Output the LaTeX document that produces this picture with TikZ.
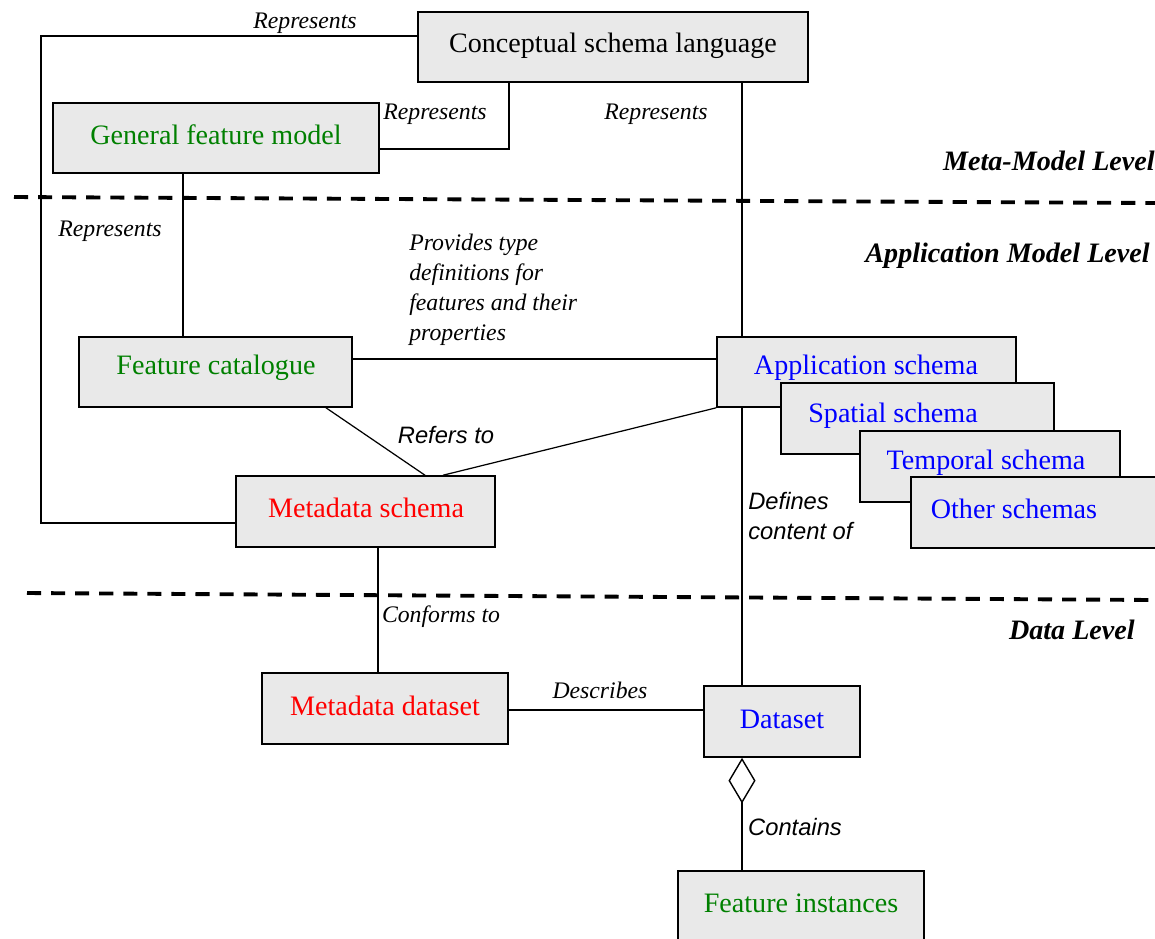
\documentclass[tikz,border=0pt]{standalone}
\usepackage{fontspec}
\setmainfont{Liberation Serif}
\newfontfamily\arialfont{Liberation Sans}
\usetikzlibrary{arrows.meta}
\definecolor{boxfill}{RGB}{233,233,233}
\definecolor{fgreen}{RGB}{0,128,0}
\definecolor{fred}{RGB}{255,0,0}
\definecolor{fblue}{RGB}{0,0,255}
\begin{document}
\begin{tikzpicture}[x=0.02cm,y=-0.02cm,
  box/.style={draw=black, line width=0.9pt, fill=boxfill, inner sep=0pt},
  wh/.style 2 args={minimum width=#1*0.02cm, minimum height=#2*0.02cm},
  boxtext/.style={font=\fontsize{16}{19}\selectfont, inner sep=0pt},
  rel/.style={font=\fontsize{13.5}{17}\selectfont\itshape, inner sep=0pt},
  relsans/.style={font=\fontsize{13.5}{17.5}\selectfont\arialfont\itshape, inner sep=0pt},
  level/.style={font=\fontsize{16}{19}\selectfont\bfseries\itshape, inner sep=0pt},
  conn/.style={draw=black, line width=0.7pt},
  sep/.style={line width=2.2pt, dash pattern=on 8pt off 5.7pt}]
\useasboundingbox (0,0) rectangle (1155,938);

% level separators
\coordinate (s1a) at (14,197);
\coordinate (s1b) at (1155,203);
\coordinate (s2a) at (27,593);
\coordinate (s2b) at (1155,600);
\draw[sep] (s1a) -- (s1b);
\draw[sep] (s2a) -- (s2b);

% level titles
\node[level, anchor=east] (lv-meta) at (1155,161) {Meta-Model Level};
\node[level, anchor=east] (lv-app) at (1150,256) {Application Model Level};
\node[level, anchor=east] (lv-data) at (1135,630) {Data Level};

% boxes
\node[box, wh={390}{70}] (csl) at (613,47) {};
\node[boxtext] (csl-t) at (613,46) {Conceptual schema language};

\node[box, wh={326}{70}] (gfm) at (216,138) {};
\node[boxtext, text=fgreen] (gfm-t) at (216,135) {General feature model};

\node[box, wh={273}{70}] (fc) at (215.5,372) {};
\node[boxtext, text=fgreen] (fc-t) at (216,368) {Feature catalogue};

\node[box, wh={259}{71}] (ms) at (365.5,511.5) {};
\node[boxtext, text=fred] (ms-t) at (366,508) {Metadata schema};

\node[box, wh={299}{70}] (app) at (866.5,372) {};
\node[boxtext, text=fblue] (app-t) at (866,368) {Application schema};

\node[box, wh={273}{71}] (spa) at (917.5,418.5) {};
\node[boxtext, text=fblue] (spa-t) at (893,416) {Spatial schema};

\node[box, wh={260}{71}] (tmp) at (990,466.5) {};
\node[boxtext, text=fblue] (tmp-t) at (986,463) {Temporal schema};

\node[box, wh={254}{71}] (oth) at (1038,512.5) {};
\node[boxtext, text=fblue] (oth-t) at (1014,509) {Other schemas};

\node[box, wh={246}{71}] (mdd) at (385,708.5) {};
\node[boxtext, text=fred] (mdd-t) at (385,706) {Metadata dataset};

\node[box, wh={156}{71}] (ds) at (782,721.5) {};
\node[boxtext, text=fblue] (ds-t) at (782,719) {Dataset};

\node[box, wh={246}{74}] (fi) at (801,908) {};
\node[boxtext, text=fgreen] (fi-t) at (801,903) {Feature instances};

% routing points
\coordinate (kA) at (41,36);
\coordinate (kB) at (41,523);
\coordinate (kC) at (509,149);
\coordinate (xGF) at (183,0);
\coordinate (xCS) at (742,0);
\coordinate (yFC) at (0,359);
\coordinate (xFCa) at (326,0);
\coordinate (xMSa) at (425,0);
\coordinate (xMSb) at (443,0);
\coordinate (xMS) at (378,0);
\coordinate (yDS) at (0,710);

% connectors
\draw[conn] (csl.west |- kA) -- (kA) -- (kB) -- (kB -| ms.west);
\draw[conn] (gfm.east |- kC) -- (kC) -- (kC |- csl.south);
\draw[conn] (xGF |- gfm.south) -- (xGF |- fc.north);
\draw[conn] (xCS |- csl.south) -- (xCS |- app.north);
\draw[conn] (fc.east |- yFC) -- (app.west |- yFC);
\draw[conn] (xFCa |- fc.south) -- (xMSa |- ms.north);
\draw[conn] (app.south west) -- (xMSb |- ms.north);
\draw[conn] (xMS |- ms.south) -- (xMS |- mdd.north);
\draw[conn] (xCS |- app.south) -- (xCS |- ds.north);
\draw[conn] (mdd.east |- yDS) -- (ds.west |- yDS);
\draw[conn, {Diamond[open, length=26pt, width=15.4pt, line width=0.8pt, fill=white]}-] (xCS |- ds.south) -- (xCS |- fi.north);

% relation labels
\node[rel] (r1) at (305,23) {Represents};
\node[rel] (r2) at (435,114) {Represents};
\node[rel] (r3) at (110,231) {Represents};
\node[rel] (r4) at (656,114) {Represents};
\node[rel, anchor=west, align=left] (prov) at (409,290) {Provides type\\definitions for\\features and their\\properties};
\node[relsans] (refers) at (446,435) {Refers to};
\node[relsans, anchor=west, align=left] (defines) at (748,516) {Defines\\content of};
\node[rel] (conf) at (441,617) {Conforms to};
\node[rel] (desc) at (600,690) {Describes};
\node[relsans] (cont) at (795,827) {Contains};
\end{tikzpicture}
\end{document}
